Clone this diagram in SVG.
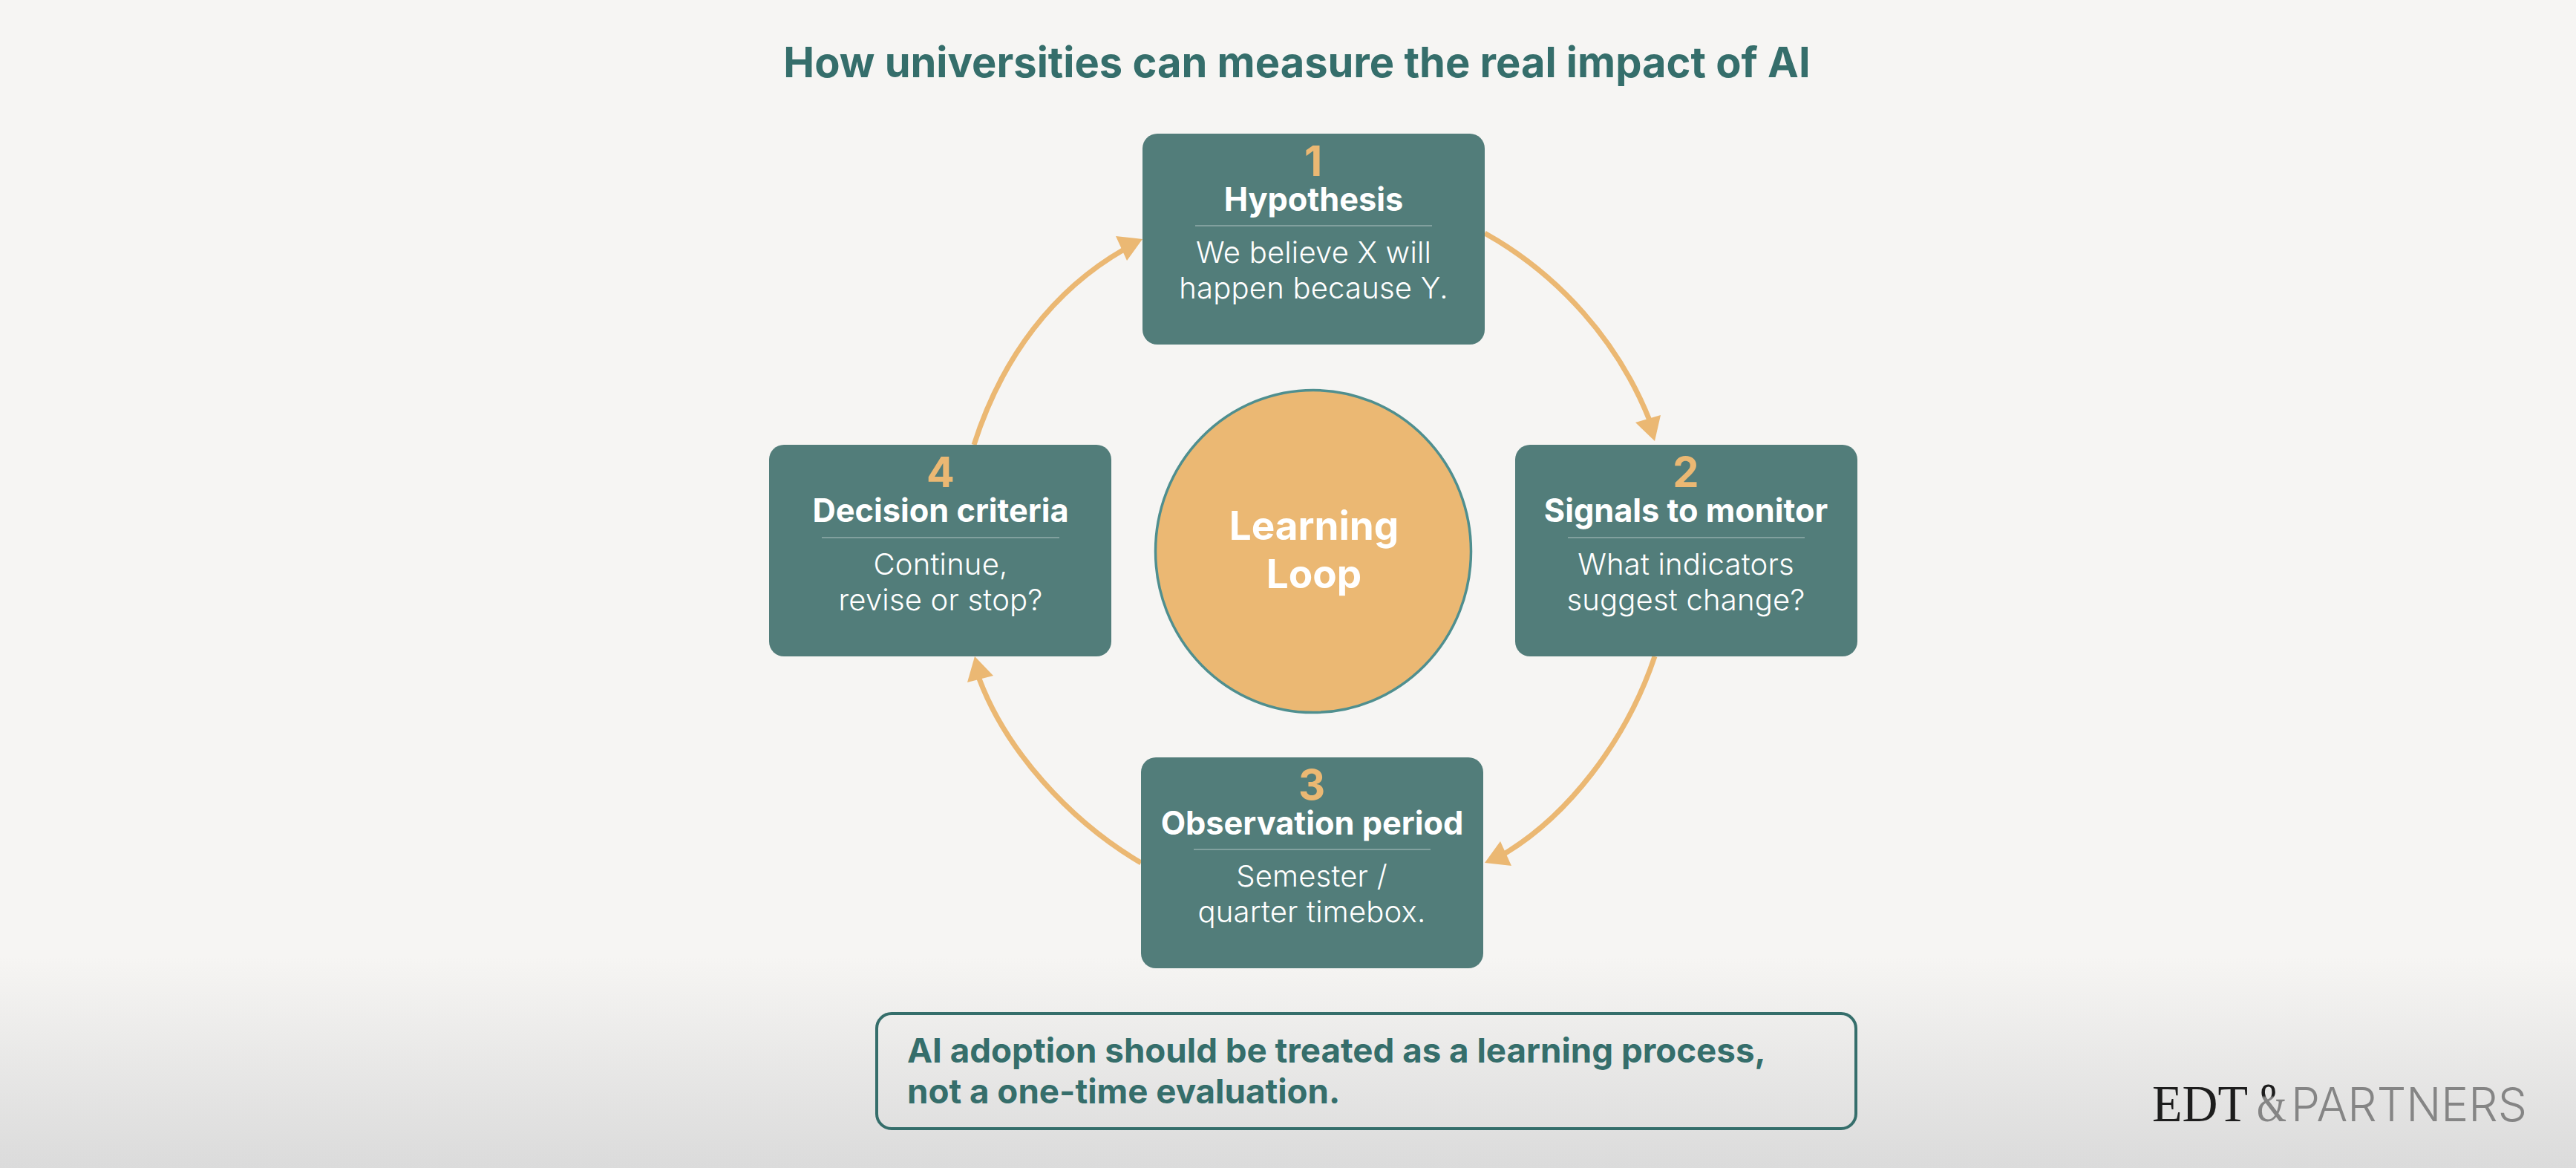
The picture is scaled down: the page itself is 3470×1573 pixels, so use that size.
<svg xmlns="http://www.w3.org/2000/svg" width="3470" height="1573" viewBox="0 0 3470 1573">
<style>
text{font-family:Inter,"Liberation Sans",sans-serif}
.c{text-anchor:middle}
.box{fill:#527d7a}
.num{font-size:56px;font-weight:700;fill:#ebb873;text-anchor:middle}
.head{font-size:43.3px;font-weight:700;fill:#fff;text-anchor:middle}
.body{font-size:40px;font-weight:300;letter-spacing:.2px;fill:#fff;text-anchor:middle}
.div{stroke:#fff;stroke-opacity:.55;stroke-width:1.2}
.arr{fill:none;stroke:#ebb873;stroke-width:7}
.tip{fill:#ebb873}
.loop{font-size:53px;font-weight:700;fill:#fff;text-anchor:middle}
.note{font-size:45.7px;font-weight:700;fill:#356e6b}
.serif{font-family:"Liberation Serif",serif}
</style>
<defs>
<linearGradient id="bg" x1="0" y1="0" x2="0" y2="1"><stop offset="0" stop-color="#f6f5f3"/><stop offset=".82" stop-color="#f6f5f3"/><stop offset="1" stop-color="#dbdbdb"/></linearGradient>
<linearGradient id="amp" x1="0" y1="0" x2="0" y2="1"><stop offset=".38" stop-color="#1d1d1d"/><stop offset=".42" stop-color="#858585"/></linearGradient>
</defs>
<rect id="background" width="3470" height="1573" fill="url(#bg)"/>
<text id="title" x="1747" y="104" class="c" font-size="56" font-weight="700" fill="#356e6b">How universities can measure the real impact of AI</text>
<g id="connectors">
<path class="arr" d="M2000 314C2100 370 2180 460 2222 566"/>
<polygon class="tip" points="2229,594 2203,569 2237,559"/>
<path class="arr" d="M2229 884C2190 1000 2110 1100 2026 1150"/>
<polygon class="tip" points="2000,1162 2021,1133 2036,1166"/>
<path class="arr" d="M1537 1162C1440 1105 1355 1010 1319 914"/>
<polygon class="tip" points="1313,884 1338,910 1303,919"/>
<path class="arr" d="M1312 599C1350 480 1420 390 1514 336"/>
<polygon class="tip" points="1539,322 1503,318 1518,351"/>
</g>
<g id="center"><ellipse cx="1769" cy="742.5" rx="212.5" ry="217" fill="#ebb873" stroke="#4f8f8f" stroke-width="3.5"/>
<text x="1770" y="727" class="loop">Learning</text>
<text x="1770" y="792" class="loop">Loop</text></g>
<g id="node1"><rect class="box" x="1539" y="180" width="461" height="284" rx="20"/>
<text class="num" x="1769" y="237">1</text><text class="head" x="1769.5" y="284">Hypothesis</text>
<line class="div" x1="1610" y1="304" x2="1929" y2="304"/>
<text class="body" x="1769.5" y="354">We believe X will</text><text class="body" x="1769.5" y="402">happen because Y.</text></g>
<g id="node2"><rect class="box" x="2041" y="599" width="461" height="285" rx="20"/>
<text class="num" x="2271" y="656">2</text><text class="head" x="2271" y="703">Signals to monitor</text>
<line class="div" x1="2112" y1="724" x2="2431" y2="724"/>
<text class="body" x="2271" y="774">What indicators</text><text class="body" x="2271" y="822">suggest change?</text></g>
<g id="node3"><rect class="box" x="1537" y="1020" width="461" height="284" rx="20"/>
<text class="num" x="1767" y="1077">3</text><text class="head" x="1767.5" y="1124">Observation period</text>
<line class="div" x1="1608" y1="1144" x2="1927" y2="1144"/>
<text class="body" x="1767" y="1194">Semester /</text><text class="body" x="1767" y="1242">quarter timebox.</text></g>
<g id="node4"><rect class="box" x="1036" y="599" width="461" height="285" rx="20"/>
<text class="num" x="1267" y="656">4</text><text class="head" x="1267" y="703">Decision criteria</text>
<line class="div" x1="1107" y1="724" x2="1427" y2="724"/>
<text class="body" x="1267" y="774">Continue,</text><text class="body" x="1267" y="822">revise or stop?</text></g>
<g id="callout"><rect x="1181" y="1365" width="1319" height="155" rx="20" fill="none" stroke="#356e6b" stroke-width="4"/>
<text x="1222" y="1431" class="note">AI adoption should be treated as a learning process,</text>
<text x="1222" y="1486" class="note">not a one-time evaluation.</text></g>
<g id="logo">
<text x="2899" y="1510" class="serif" font-size="70" fill="#1d1d1d" textLength="129" lengthAdjust="spacingAndGlyphs">EDT</text>
<text x="3040" y="1510" class="serif" font-size="74" fill="url(#amp)" textLength="40" lengthAdjust="spacingAndGlyphs">&amp;</text>
<text x="3086" y="1510" font-size="63" font-weight="300" fill="#858585" textLength="318" lengthAdjust="spacingAndGlyphs">PARTNERS</text>
</g>
</svg>
